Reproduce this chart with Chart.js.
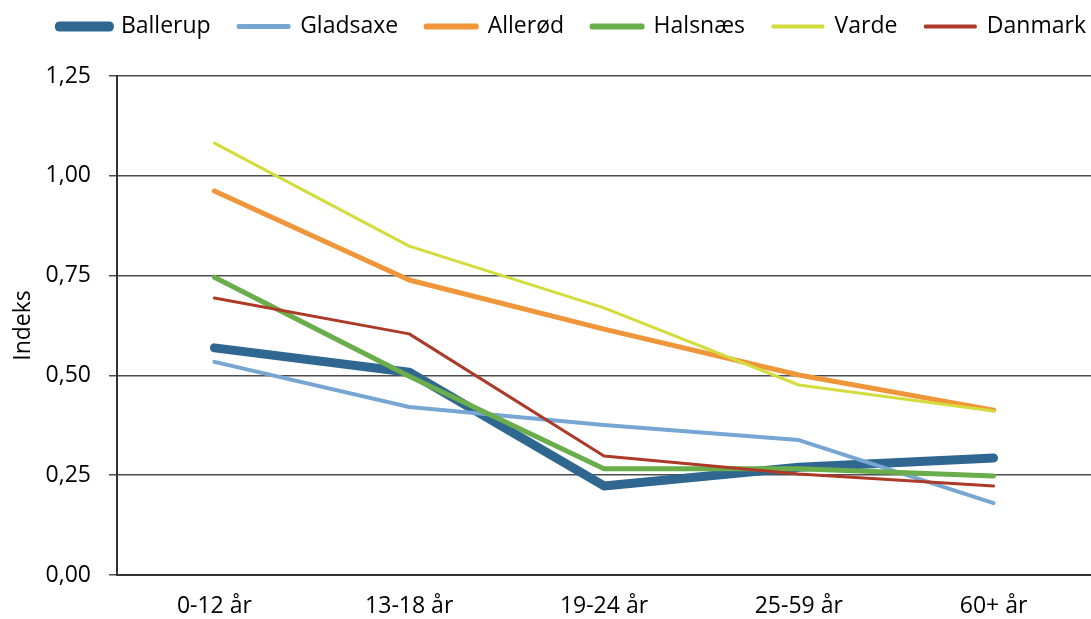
<!DOCTYPE html>
<html>
<head>
<meta charset="utf-8">
<script src="https://cdn.jsdelivr.net/npm/chart.js@4.4.0/dist/chart.umd.min.js"></script>
<style>
  html, body { margin: 0; background: #fff; }
  #wrap { width: 1091px; height: 619px; }
</style>
</head>
<body>
<div id="wrap"><canvas id="canvas"></canvas></div>
<script>
// Données
const categories = ['0-12 år', '13-18 år', '19-24 år', '25-59 år', '60+ år'];
const ballerup = [0.569, 0.508, 0.223, 0.270, 0.293];
const gladsaxe = [0.534, 0.421, 0.376, 0.338, 0.180];
const allerod  = [0.962, 0.739, 0.616, 0.501, 0.413];
const halsnaes = [0.746, 0.498, 0.266, 0.266, 0.248];
const varde    = [1.082, 0.824, 0.669, 0.476, 0.411];
const danmark  = [0.694, 0.604, 0.298, 0.253, 0.223];
const yTicks = [0, 0.25, 0.5, 0.75, 1, 1.25];

const font = { family: "'Open Sans', sans-serif", size: 23 };

function serie(label, data, color, width, order) {
    return {
        label: label,
        data: data,
        borderColor: color,
        backgroundColor: color,
        borderWidth: width,
        borderCapStyle: 'round',
        borderJoinStyle: 'round',
        pointRadius: 0,
        pointHoverRadius: 0,
        tension: 0,
        order: order
    };
}

// Excel dessine la dernière série au-dessus : ordre inversé
const datasets = [
    serie('Ballerup', ballerup, '#2f6790', 9, 5),
    serie('Gladsaxe', gladsaxe, '#78a6d2', 4, 4),
    serie('Allerød', allerod, '#f0963a', 5, 3),
    serie('Halsnæs', halsnaes, '#6aad4b', 5, 2),
    serie('Varde', varde, '#d3dc3d', 3, 1),
    serie('Danmark', danmark, '#ad3a28', 3, 0)
];

// Légende sur une seule ligne, espace dessous, décalée à droite
const legendMargin = {
    id: 'legendMargin',
    beforeInit(chart) {
        const fitValue = chart.legend.fit;
        chart.legend.fit = function fit() {
            this.maxWidth = 3000;
            fitValue.bind(chart.legend)();
            this.height += 28;
        };
    },
    afterLayout(chart) {
        chart.legend.right += 23;
    }
};

new Chart(document.querySelector('#canvas'), {
    type: 'line',
    data: { labels: categories, datasets: datasets },
    plugins: [legendMargin],
    options: {
        responsive: true,
        maintainAspectRatio: false,
        animation: false,
        layout: { padding: { top: -13, right: 0, bottom: 0, left: 0 } },
        plugins: {
            tooltip: { enabled: false },
            legend: {
                align: 'end',
                labels: {
                    color: '#000',
                    font: font,
                    boxWidth: 50,
                    boxHeight: 1,
                    padding: 28,
                    generateLabels: function (chart) {
                        return chart.data.datasets.map(function (ds, i) {
                            return {
                                text: ds.label,
                                fillStyle: ds.borderColor,
                                strokeStyle: ds.borderColor,
                                lineWidth: ds.borderWidth,
                                lineJoin: 'round',
                                lineCap: 'round',
                                fontColor: '#000',
                                hidden: false,
                                datasetIndex: i
                            };
                        });
                    }
                }
            }
        },
        scales: {
            x: {
                offset: true,
                grid: { display: false, drawTicks: false },
                border: { display: true, color: '#333', width: 2 },
                ticks: { color: '#000', font: font, padding: 18 },
                afterFit: function (scale) { scale.height = 44; }
            },
            y: {
                min: 0,
                max: 1.25,
                afterBuildTicks: function (scale) {
                    scale.ticks = yTicks.map(v => ({ value: v }));
                },
                grid: { color: '#4d4d4d', lineWidth: 1.5, tickLength: 8, drawTicks: true },
                border: { display: true, color: '#333', width: 2 },
                ticks: {
                    color: '#000',
                    font: font,
                    padding: 18,
                    callback: v => v.toFixed(2).replace('.', ',')
                },
                title: { display: true, text: 'Indeks', color: '#000', font: font, padding: { top: 10, bottom: 0 } },
                afterFit: function (scale) { scale.width = 117; }
            }
        }
    }
});
</script>
</body>
</html>
